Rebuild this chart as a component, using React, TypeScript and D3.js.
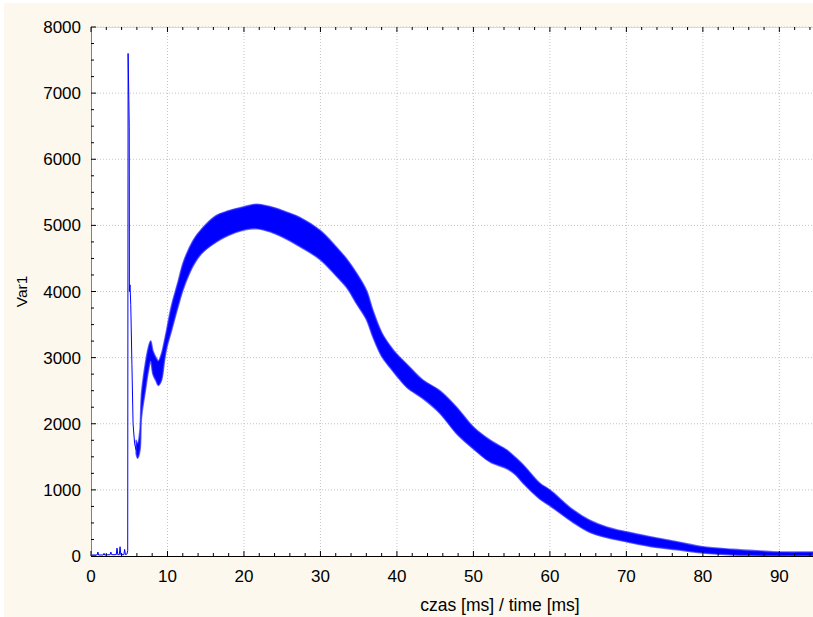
import React from "react";
import * as d3 from "d3";

// Early trace (baseline, ignition spike, first fall) [time ms, value]
const earlyT = [0, 0.8, 0.9, 1.0, 1.6, 1.7, 1.8, 2.5, 2.6, 2.7, 3.3, 3.4, 3.5, 3.7, 3.8, 3.9, 4.3, 4.4, 4.5, 4.7, 4.8, 4.85, 4.95, 5.0, 5.02, 5.1, 5.2, 5.35, 5.5, 5.7, 5.9];
const earlyV = [15, 15, 60, 15, 15, 40, 15, 20, 60, 20, 20, 120, 20, 20, 140, 20, 20, 100, 20, 30, 80, 7600, 6900, 6500, 4000, 4100, 3800, 2900, 2000, 1700, 1600];

// Noisy band: time, lower envelope, upper envelope
const bandT = [5.9, 6.1, 6.4, 6.6, 7.1, 7.5, 7.8, 8.1, 8.5, 8.8, 9.2, 9.6, 9.9, 10.5, 11.4, 12.1, 13.4, 14.5, 16.4, 18, 20, 21.7, 23.5, 25.1, 27.3, 30, 32.1, 33.5, 34.7, 36, 36.9, 38, 39.1, 40, 41.3, 43.4, 45.6, 47.8, 50, 52.2, 54.4, 55.5, 56.5, 58.7, 60, 63, 65.2, 67.4, 70, 73.1, 76.6, 80, 84, 87.5, 90, 94.4];
const bandLo = [1550, 1480, 1600, 2100, 2500, 2800, 2950, 2750, 2650, 2580, 2650, 2950, 3150, 3400, 3780, 4050, 4400, 4580, 4750, 4850, 4930, 4950, 4900, 4820, 4680, 4480, 4230, 4050, 3820, 3580, 3300, 3020, 2850, 2720, 2550, 2380, 2160, 1850, 1620, 1420, 1320, 1230, 1100, 860, 760, 510, 360, 280, 215, 145, 95, 45, 15, 5, 3, 3];
const bandHi = [1750, 1700, 1900, 2450, 2900, 3150, 3250, 3100, 3000, 2950, 3050, 3250, 3420, 3770, 4150, 4450, 4780, 4950, 5150, 5220, 5280, 5320, 5280, 5220, 5120, 4920, 4670, 4480, 4280, 4020, 3700, 3380, 3180, 3050, 2900, 2660, 2500, 2250, 1950, 1750, 1600, 1490, 1380, 1100, 1000, 700, 540, 440, 365, 290, 215, 140, 100, 75, 60, 60];

const xTicks = [0, 10, 20, 30, 40, 50, 60, 70, 80, 90];
const yTicks = [0, 1000, 2000, 3000, 4000, 5000, 6000, 7000, 8000];
const xTitle = "czas [ms] / time [ms]";
const yTitle = "Var1";

export default function App() {
  const W = 813, H = 617;
  const L = 91, R = 813, T = 27, B = 556;
  const x = d3.scaleLinear().domain([0, 94.4]).range([L, R]);
  const y = d3.scaleLinear().domain([0, 8000]).range([B, T]);
  const font = "'Liberation Sans', Arial, sans-serif";

  const early = earlyT.map((t, i) => [t, earlyV[i]] as [number, number]);
  const band = bandT.map((t, i) => ({ t, lo: bandLo[i], hi: bandHi[i] }));
  const lineGen = d3.line<[number, number]>().x(d => x(d[0])).y(d => y(d[1]));
  const areaGen = d3.area<{ t: number; lo: number; hi: number }>()
    .x(d => x(d.t)).y0(d => y(d.lo)).y1(d => y(d.hi))
    .curve(d3.curveCatmullRom.alpha(0.5));

  const xMinor = d3.range(0, 95, 2);
  const yMinor = d3.range(0, 8001, 250);

  return (
    <svg width={W} height={H} style={{ position: "absolute", left: 0, top: 0 }}>
      <rect x={0} y={0} width={W} height={H} fill="#ffffff" />
      <rect x={4} y={3} width={W - 4} height={H - 3} fill="#fdf8ed" />
      <rect x={L} y={T} width={R - L} height={B - T} fill="#ffffff" />
      {/* grid */}
      {xTicks.slice(1).map(t => (
        <line key={"gx" + t} x1={x(t)} x2={x(t)} y1={T} y2={B} stroke="#c4c4c4" strokeDasharray="1,2" />
      ))}
      {yTicks.slice(1).map(v => (
        <line key={"gy" + v} x1={L} x2={R} y1={y(v)} y2={y(v)} stroke="#c4c4c4" strokeDasharray="1,2" />
      ))}
      {/* data */}
      <path d={areaGen(band) || ""} fill="#0000ff" stroke="#2a2aff" strokeOpacity={0.7} strokeWidth={1.6} strokeLinejoin="round" />
      <path d={lineGen(early) || ""} fill="none" stroke="#0000ff" strokeWidth={1} />
      {/* axes */}
      <line x1={L} x2={R} y1={T + 0.5} y2={T + 0.5} stroke="#d8d8d8" />
      <line x1={L + 0.5} x2={L + 0.5} y1={T} y2={B} stroke="#808080" />
      <line x1={L} x2={R} y1={B + 0.5} y2={B + 0.5} stroke="#000000" />
      {xMinor.map(t => {
        const major = t % 10 === 0;
        const len = major ? 5 : 3;
        return (
          <g key={"xt" + t}>
            <line x1={x(t)} x2={x(t)} y1={B} y2={B - len} stroke="#000" />
            <line x1={x(t)} x2={x(t)} y1={T} y2={T + len} stroke="#000" />
          </g>
        );
      })}
      {yMinor.map(v => {
        const major = v % 1000 === 0;
        const len = major ? 5 : 3;
        return <line key={"yt" + v} x1={L} x2={L + len} y1={y(v)} y2={y(v)} stroke="#000" />;
      })}
      {xTicks.map(t => (
        <text key={"xl" + t} x={x(t)} y={581.5} textAnchor="middle" fontFamily={font} fontSize={17} fill="#000">{t}</text>
      ))}
      {yTicks.map(v => (
        <text key={"yl" + v} x={81} y={y(v) + 6} textAnchor="end" fontFamily={font} fontSize={17} fill="#000">{v}</text>
      ))}
      <text x={500} y={611} textAnchor="middle" fontFamily={font} fontSize={17.5} fill="#000">{xTitle}</text>
      <text transform={`translate(27,${(T + B) / 2}) rotate(-90)`} textAnchor="middle" fontFamily={font} fontSize={15.5} fill="#000">{yTitle}</text>
    </svg>
  );
}
